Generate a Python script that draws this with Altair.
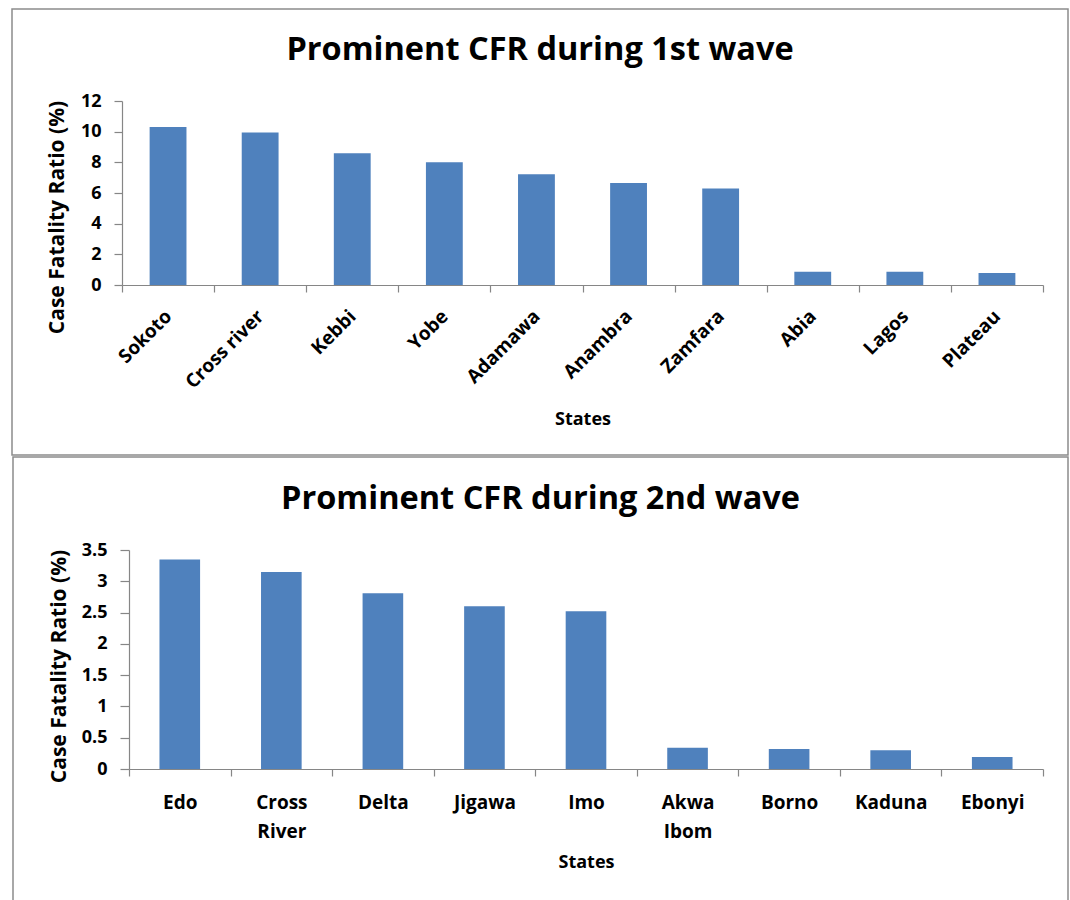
import altair as alt
import pandas as pd

# ---- data ----
states1 = ["Sokoto", "Cross river", "Kebbi", "Yobe", "Adamawa", "Anambra",
           "Zamfara", "Abia", "Lagos", "Plateau"]
cfr1 = [10.3, 9.95, 8.6, 8.0, 7.23, 6.65, 6.3, 0.87, 0.87, 0.78]

states2 = ["Edo", "Cross River", "Delta", "Jigawa", "Imo", "Akwa Ibom",
           "Borno", "Kaduna", "Ebonyi"]
cfr2 = [3.35, 3.15, 2.81, 2.6, 2.52, 0.34, 0.32, 0.30, 0.19]

yticks1 = [0, 2, 4, 6, 8, 10, 12]
yticks2 = [0, 0.5, 1, 1.5, 2, 2.5, 3, 3.5]

title1 = "Prominent CFR during 1st wave"
title2 = "Prominent CFR during 2nd wave"
xtitle = "States"
ytitle = "Case Fatality Ratio (%)"

FONT = "Open Sans"
BAR = "#4F81BD"
AXC = "#868686"
BORDER = "#8c8c8c"

df1 = pd.DataFrame({"State": states1, "CFR": cfr1})
df2 = pd.DataFrame({"State": states2, "CFR": cfr2})


def border(x1, x2, y1, y2):
    return alt.Chart(alt.Data(values=[{}])).mark_rect(
        fillOpacity=0, stroke=BORDER, strokeWidth=1.5
    ).encode(x=alt.value(x1), x2=alt.value(x2), y=alt.value(y1), y2=alt.value(y2))


W, H1, H2 = 921, 184, 219

# ---- top panel ----
bars1 = alt.Chart(df1).mark_bar(width={"band": 0.4}, color=BAR).encode(
    x=alt.X("State:N", sort=states1, title=xtitle,
            scale=alt.Scale(paddingInner=0, paddingOuter=0),
            axis=alt.Axis(labelAngle=-45, labelAlign="right", labelBaseline="middle",
                          tickBand="extent", tickSize=7, labelPadding=21,
                          labelFontSize=19, titlePadding=19)),
    y=alt.Y("CFR:Q", title=ytitle,
            scale=alt.Scale(domain=[0, 12], nice=False),
            axis=alt.Axis(values=yticks1, format="~g", tickSize=8, labelPadding=13,
                          labelFontSize=18, titleX=-65, titleY=116, titleFontSize=21,
                          titleBaseline="middle", titleAlign="center")),
)
top = alt.layer(border(-110, 946, -92, 354), bars1).properties(
    width=W, height=H1,
    title=alt.Title(title1, fontSize=32.5, font=FONT, fontWeight="bold",
                    anchor="middle", frame="bounds", offset=-84.5,
                    baseline="alphabetic", color="black"),
)

# ---- bottom panel ----
bars2 = alt.Chart(df2).mark_bar(width={"band": 0.4}, color=BAR).encode(
    x=alt.X("State:N", sort=states2, title=xtitle,
            scale=alt.Scale(paddingInner=0, paddingOuter=0, range=[7, W]),
            axis=alt.Axis(labelAngle=0, labelAlign="center", labelBaseline="top",
                          labelExpr="split(datum.label, ' ')", labelLineHeight=29,
                          tickBand="extent", tickSize=7, labelPadding=17,
                          labelFontSize=19, titlePadding=12)),
    y=alt.Y("CFR:Q", title=ytitle,
            scale=alt.Scale(domain=[0, 3.5], nice=False),
            axis=alt.Axis(values=yticks2, format="~g", tickSize=9, labelPadding=13,
                          labelFontSize=18, offset=-7, titleX=-70, titleY=116,
                          titleFontSize=21, titleBaseline="middle", titleAlign="center")),
)
bottom = alt.layer(border(-109, 946, -93, 352), bars2).properties(
    width=W, height=H2,
    title=alt.Title(title2, fontSize=32.5, font=FONT, fontWeight="bold",
                    anchor="middle", frame="bounds", offset=-85.5,
                    baseline="alphabetic", color="black"),
)

chart = alt.vconcat(top, bottom, spacing=0).properties(
    padding={"left": 11, "top": 8, "right": 0, "bottom": 0},
    background="white",
).configure_view(stroke=None).configure_axis(
    labelFont=FONT, labelFontWeight="bold", labelColor="black",
    titleFont=FONT, titleFontWeight="bold", titleColor="black", titleFontSize=18,
    domainColor=AXC, tickColor=AXC, grid=False, domainWidth=1.2, tickWidth=1.2,
)

chart.save("out.html", embed_options={"renderer": "svg", "actions": False})
